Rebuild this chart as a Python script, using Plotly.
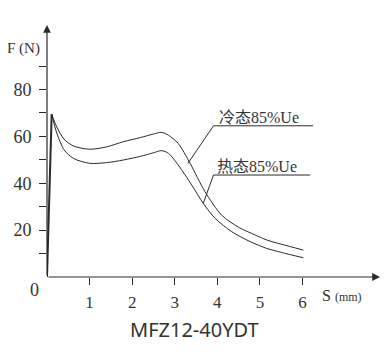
import plotly.graph_objects as go

# Rise (shared by both curves)
rise_s = [0.0, 0.11]
rise_f = [0.0, 69.5]

# Cold state 85%Ue
cold_s = [0.11, 0.23, 0.4, 0.62, 1.0, 1.4, 1.79, 2.2, 2.5, 2.69, 2.85, 3.08, 3.36, 3.71, 4.1, 4.5, 4.88, 5.16, 5.5, 6.02]
cold_f = [69.5, 64.0, 58.8, 55.9, 54.5, 55.5, 57.7, 59.5, 61.0, 61.7, 60.5, 57.0, 48.5, 36.4, 26.4, 21.2, 18.0, 15.8, 14.0, 11.5]

# Hot state 85%Ue
hot_s = [0.11, 0.23, 0.4, 0.62, 1.0, 1.4, 1.79, 2.2, 2.5, 2.69, 2.85, 3.08, 3.4, 3.67, 3.95, 4.34, 4.77, 5.16, 5.5, 6.02]
hot_f = [69.5, 61.4, 54.3, 50.6, 48.5, 48.8, 49.9, 51.5, 53.0, 53.9, 52.8, 47.8, 39.2, 31.4, 25.0, 19.3, 15.1, 12.2, 10.5, 8.2]

x_ticks = [1, 2, 3, 4, 5, 6]
y_ticks = [10, 20, 30, 40, 50, 60, 70, 80, 90]
y_ticktext = ["", "20", "", "40", "", "60", "", "80", ""]

labels = ["冷态85%Ue", "热态85%Ue"]

LINE = "#2a2a2a"
SERIF = "Liberation Serif, Noto Sans CJK SC, serif"

fig = go.Figure()
fig.add_trace(go.Scatter(x=rise_s, y=rise_f, mode="lines", line=dict(color=LINE, width=2), hoverinfo="skip"))
fig.add_trace(go.Scatter(x=cold_s, y=cold_f, mode="lines", line=dict(color=LINE, width=1, shape="spline", smoothing=0.8), hoverinfo="skip"))
fig.add_trace(go.Scatter(x=hot_s, y=hot_f, mode="lines", line=dict(color=LINE, width=1, shape="spline", smoothing=0.8), hoverinfo="skip"))

# leader lines
fig.add_trace(go.Scatter(x=[3.31, 3.91, 6.25], y=[48.5, 64.5, 64.5], mode="lines", line=dict(color=LINE, width=1), hoverinfo="skip"))
fig.add_trace(go.Scatter(x=[3.67, 3.91, 6.18], y=[31.4, 43.5, 43.5], mode="lines", line=dict(color=LINE, width=1), hoverinfo="skip"))

XMAX = 7.82
YMAX = 107.5

fig.update_layout(
    width=376, height=347,
    margin=dict(l=39, r=4, t=17, b=78, autoexpand=False),
    paper_bgcolor="white", plot_bgcolor="white",
    showlegend=False,
    xaxis=dict(range=[0, XMAX], showgrid=False, zeroline=False, showline=False, automargin=False,
               tickvals=x_ticks, ticks="outside", ticklen=7, tickcolor=LINE,
               tickfont=dict(family=SERIF, size=17, color="#333"), ticklabelstandoff=3),
    yaxis=dict(range=[0, YMAX], showgrid=False, zeroline=False, showline=False, automargin=False,
               tickvals=y_ticks, ticktext=y_ticktext, ticks="outside", ticklen=7, tickcolor=LINE,
               tickfont=dict(family=SERIF, size=18, color="#333"), ticklabelstandoff=4),
)

annotations = [
    # axis arrows
    dict(x=XMAX, y=0, ax=0, ay=0, xref="x", yref="y", axref="x", ayref="y", text="",
         showarrow=True, arrowhead=2, arrowsize=1.3, arrowwidth=1.2, arrowcolor=LINE),
    dict(x=0, y=YMAX, ax=0, ay=0, xref="x", yref="y", axref="x", ayref="y", text="",
         showarrow=True, arrowhead=2, arrowsize=1.3, arrowwidth=1.2, arrowcolor=LINE),
    dict(x=0, y=0, xref="x", yref="y", text="0", showarrow=False, xshift=-13, yshift=-13,
         font=dict(family=SERIF, size=18, color="#333")),
    dict(x=0, y=97.6, xref="x", yref="y", text="F (N)", showarrow=False, xshift=-24,
         font=dict(family=SERIF, size=15, color="#333")),
    dict(x=6.92, y=0, xref="x", yref="y", text="S <span style='font-size:12px'>(mm)</span>",
         showarrow=False, yshift=-18, font=dict(family=SERIF, size=16, color="#333")),
    dict(x=4.98, y=68.2, xref="x", yref="y", text=labels[0], showarrow=False,
         font=dict(family=SERIF, size=16, color="#333")),
    dict(x=4.93, y=47.3, xref="x", yref="y", text=labels[1], showarrow=False,
         font=dict(family=SERIF, size=16, color="#333")),
    dict(x=0.444, y=-0.21, xref="paper", yref="paper", text="MFZ12-40YDT", showarrow=False,
         yanchor="middle", font=dict(family="Noto Sans, sans-serif", size=20, color="#333")),
]
fig.update_layout(annotations=annotations)

fig.write_html("out.html")
